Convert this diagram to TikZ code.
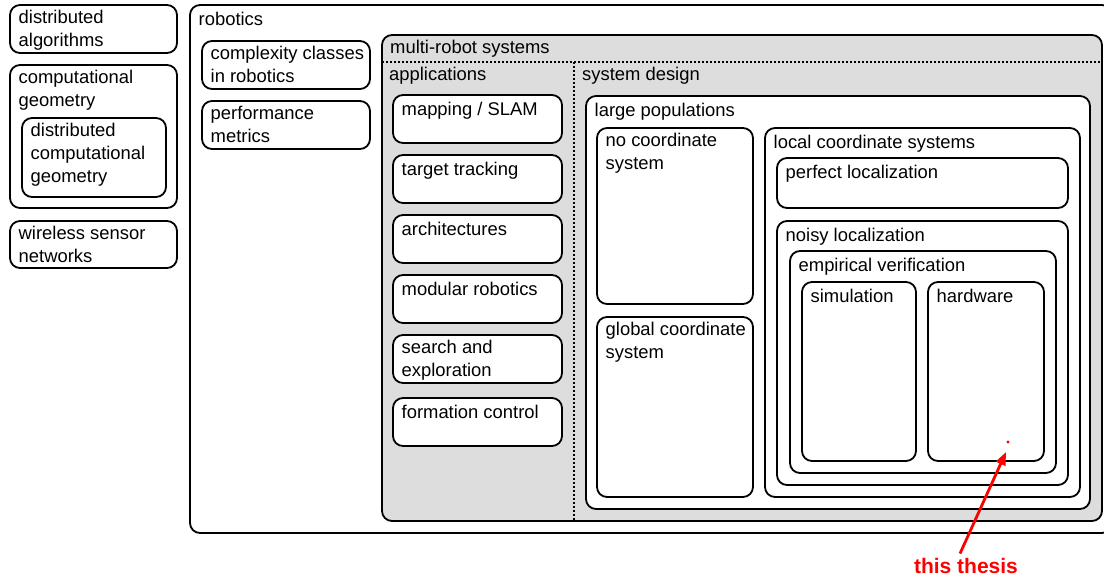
\documentclass[tikz,border=0pt]{standalone}
\usepackage{fontspec}
\setmainfont{Liberation Sans}
\usetikzlibrary{arrows.meta}
\definecolor{mrsgray}{RGB}{221,221,221}
\definecolor{thesisred}{RGB}{255,0,0}
\tikzset{
  box/.style={draw=black, line width=1.8pt, rounded corners=10pt, inner sep=0pt, outer sep=0pt},
  lbl/.style={font=\fontsize{18.4}{23}\selectfont, inner sep=0pt, align=left, anchor=north west,
              execute at begin node={\rule{0pt}{15pt}}},
  hdr/.style={font=\fontsize{18.4}{23}\selectfont, inner sep=0pt, anchor=base west},
  divider/.style={line width=1.5pt, dash pattern=on 1.8pt off 2.2pt},
  thesisarrow/.style={draw=thesisred, line width=2.8pt, -{Triangle[length=13pt,width=10pt]}},
  thesislbl/.style={font=\bfseries\fontsize{21}{25}\selectfont, text=thesisred, inner sep=0pt, anchor=base}
}
\newcommand\rbox[7][white]{%
  \node[box, fill=#1, minimum width={#5pt-#3pt}, minimum height={#6pt-#4pt}, anchor=north west] (#2) at (#3,#4) {};
  \node[lbl] (#2-t) at ({#3+8.5},{#4+5}) {#7};
}
\begin{document}
\begin{tikzpicture}[x=1pt, y=-1pt]
\useasboundingbox (0,0) rectangle (1104,578);
% left column
\rbox{da}{10}{5}{177}{53}{distributed\\algorithms}
\rbox{cg}{10}{65}{177}{208}{computational\\geometry}
\rbox{dcg}{22}{118}{166}{197}{distributed\\computational\\geometry}
\rbox{wsn}{10}{221}{177}{268}{wireless sensor\\networks}
% robotics
\rbox{rob}{190}{5}{1112}{533}{robotics}
\rbox{cc}{202}{41}{370}{89}{complexity classes\\in robotics}
\rbox{pm}{202}{101}{370}{149}{performance\\metrics}
% multi-robot systems
\node[box, fill=mrsgray, minimum width={1102pt-382pt}, minimum height={521pt-35pt}, anchor=north west] (mrs) at (382,35) {};
\node[hdr] (mrs-t) at (390,54) {multi-robot systems};
\coordinate (dl) at (382,62);
\coordinate (dr) at (1102,62);
\coordinate (dt) at (574,62);
\coordinate (db) at (574,521);
\draw[divider] (dl) -- (dr);
\draw[divider] (dt) -- (db);
\node[hdr] (apps) at (389,80.5) {applications};
\node[hdr] (sysd) at (582,80.5) {system design};
% applications
\rbox{map}{393}{95}{562}{143}{mapping / SLAM}
\rbox{tt}{393}{155}{562}{203}{target tracking}
\rbox{arch}{393}{215}{562}{263}{architectures}
\rbox{mod}{393}{275}{562}{323}{modular robotics}
\rbox{se}{393}{335}{562}{383}{search and\\exploration}
\rbox{fc}{393}{398}{562}{446}{formation control}
% system design
\rbox{lp}{586}{96}{1090}{509}{large populations}
\rbox{nc}{597}{128}{753}{304}{no coordinate\\system}
\rbox{gc}{597}{317}{753}{497}{global coordinate\\system}
\rbox{lc}{765}{128}{1080}{497}{local coordinate systems}
\rbox{pl}{777}{158}{1068}{208}{perfect localization}
\rbox{nl}{777}{221}{1068}{485}{noisy localization}
\rbox{ev}{790}{251}{1056}{473}{empirical verification}
\rbox{sim}{802}{282}{916}{461}{simulation}
\rbox{hw}{928}{282}{1044}{461}{hardware}
% this thesis
\coordinate (dot) at (1008,442);
\coordinate (tip) at (1006,452);
\fill[thesisred] (dot) circle (1.6pt);
\node[thesislbl] (thesis) at (966,573) {this thesis};
\draw[thesisarrow] ([xshift=-6pt,yshift=4pt]thesis.north) -- (tip);
\end{tikzpicture}
\end{document}
